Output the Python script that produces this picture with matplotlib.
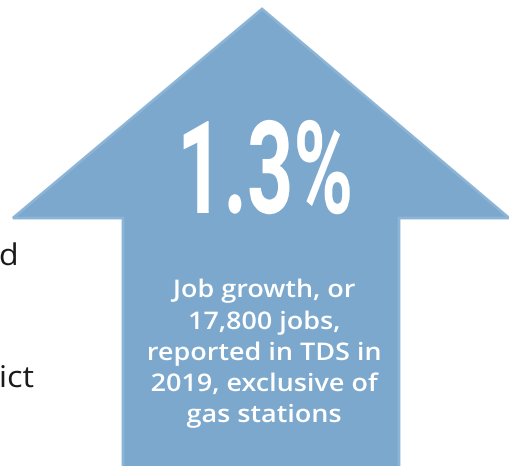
import matplotlib
matplotlib.use("Agg")
import matplotlib.pyplot as plt
from matplotlib.patches import Polygon
from matplotlib.patheffects import AbstractPathEffect
from matplotlib.transforms import Affine2D

# ---- content ----
headline_value = 1.3
headline_label = f"{headline_value}%"
body_lines = ["Job growth, or", "17,800 jobs,", "reported in TDS in",
              "2019, exclusive of", "gas stations"]
side_fragments = ["d", "ict"]

# ---- layout (pixel coordinates, y downward) ----
W, H = 509, 466
arrow_tip = (262, 9)
arrow_base_y = 218
arrow_wing_left, arrow_wing_right = 13, 509
shaft_left, shaft_right = 123, 399
shaft_bottom = 470

arrow_color = "#7ba8cc"
edge_color = "#8bb4d6"


class HScale(AbstractPathEffect):
    """Squeeze/stretch text glyphs horizontally about a centre x (display px)."""
    def __init__(self, sx, cx):
        super().__init__()
        self.sx, self.cx = sx, cx

    def draw_path(self, renderer, gc, tpath, affine, rgbFace=None):
        a = affine + Affine2D().translate(-self.cx, 0).scale(self.sx, 1).translate(self.cx, 0)
        renderer.draw_path(gc, tpath, a, rgbFace)


fig = plt.figure(figsize=(W / 100, H / 100), dpi=100)
ax = fig.add_axes([0, 0, 1, 1])
ax.set_xlim(0, W)
ax.set_ylim(H, 0)
ax.axis("off")

verts = [arrow_tip,
         (arrow_wing_right, arrow_base_y),
         (shaft_right, arrow_base_y),
         (shaft_right, shaft_bottom),
         (shaft_left, shaft_bottom),
         (shaft_left, arrow_base_y),
         (arrow_wing_left, arrow_base_y)]
ax.add_patch(Polygon(verts, closed=True, facecolor=arrow_color,
                     edgecolor=edge_color, linewidth=2.0, joinstyle="miter"))

# headline (condensed look via horizontal squeeze)
head_cx = 265
t = ax.text(head_cx, 213, headline_label, ha="center", va="baseline",
            color="white", fontsize=93, fontweight="bold",
            family=["Roboto", "DejaVu Sans"])
fig.canvas.draw()
bb = t.get_window_extent()
target_w = 176
t.set_path_effects([HScale(target_w / bb.width, head_cx)])

# body (slightly widened to mimic a geometric sans)
body_cx = 264
baselines = [297, 329, 360, 391, 422]
for line, yb in zip(body_lines, baselines):
    ax.text(body_cx, yb, line, ha="center", va="baseline", color="white",
            fontsize=17.5, fontweight="semibold",
            family=["Open Sans", "DejaVu Sans"],
            path_effects=[HScale(1.11, body_cx)])

# cropped side text
side_y = [265, 387]
for frag, yb in zip(side_fragments, side_y):
    ax.text(-1, yb, frag, ha="left", va="baseline", color="#1a1a1a",
            fontsize=21.5, family=["Open Sans", "DejaVu Sans"],
            path_effects=[HScale(1.08, 0)])

fig.savefig("out.png", dpi=100, facecolor="white")
